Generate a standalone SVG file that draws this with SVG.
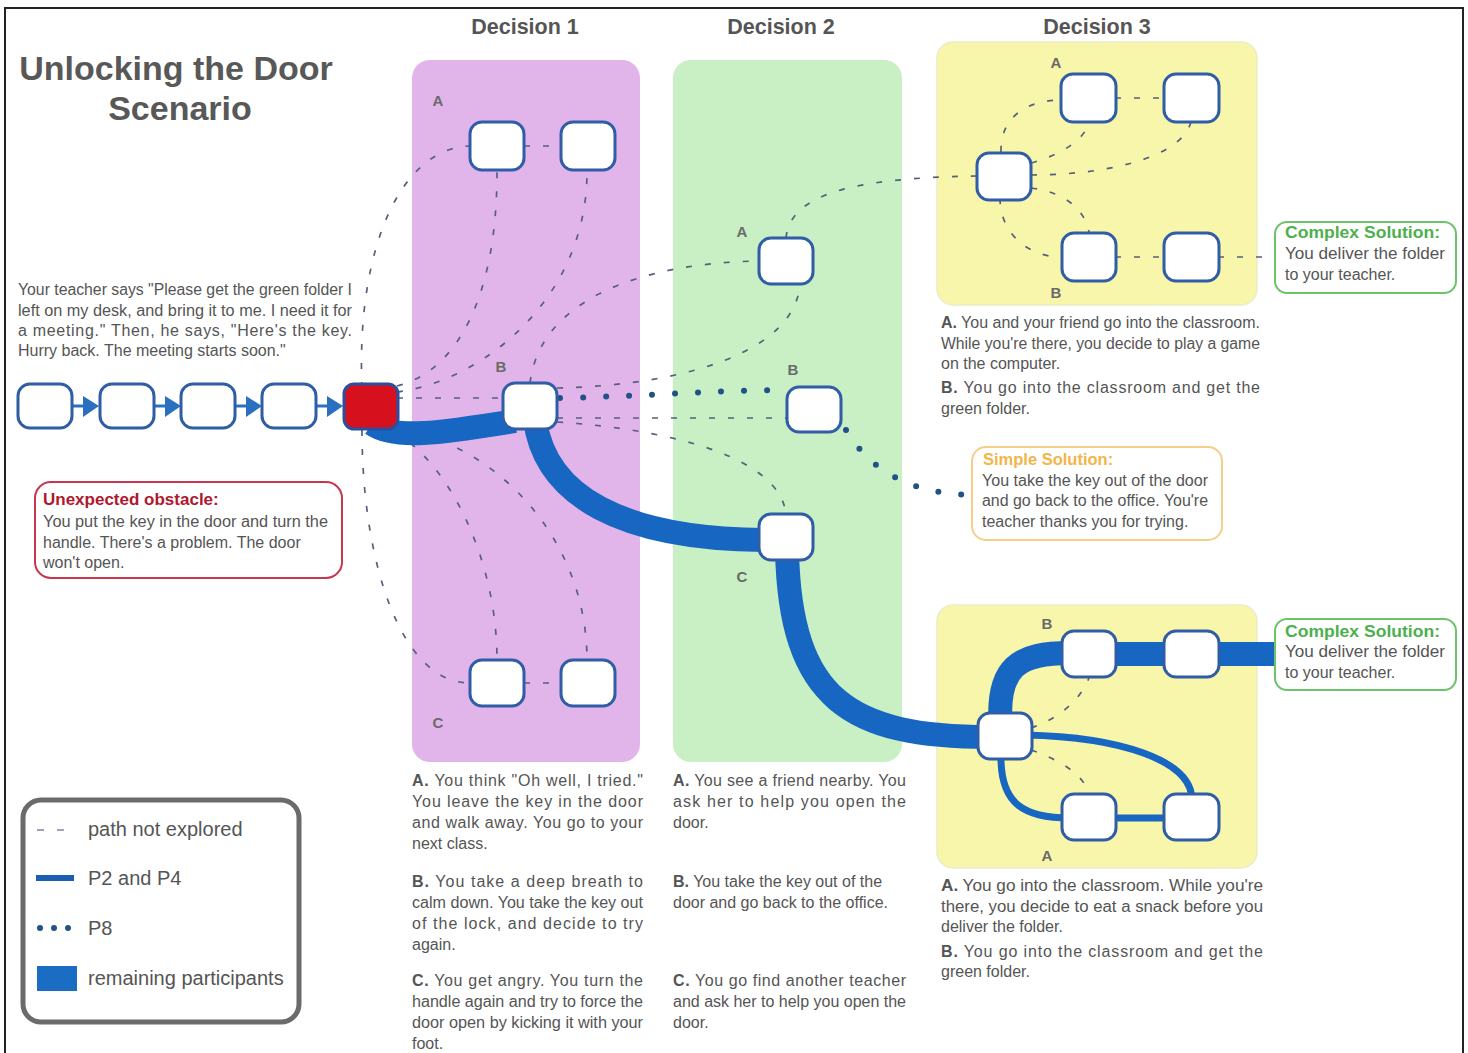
<svg xmlns="http://www.w3.org/2000/svg" width="1468" height="1053" viewBox="0 0 1468 1053">
<style>
text{font-family:"Liberation Sans",Arial,sans-serif;fill:#555}
.title{font-size:34px;font-weight:bold;fill:#585858}
.head{font-size:21.5px;font-weight:bold;fill:#555}
.body{font-size:16px;fill:#555}
.b{font-weight:bold}
.lbl{font-size:15px;font-weight:bold;fill:#6a6a6a;text-anchor:middle}
.node{fill:#fff;stroke:#2f5da6;stroke-width:3}
.halo{fill:none;stroke:#b9d6f3;stroke-width:8}
.dash{fill:none;stroke:#56607a;stroke-width:1.7;stroke-dasharray:6 13}
.band{fill:none;stroke:#1767c2;stroke-width:24}
.thin{fill:none;stroke:#1767c2;stroke-width:7}
.dots{fill:none;stroke:#1f5286;stroke-width:6;stroke-linecap:round;stroke-dasharray:0 23}
.arrow{fill:#2a6fc0}
.leg{font-size:20px;fill:#555}
</style>

<rect x="5" y="8" width="1458" height="1060" fill="#fff" stroke="#222" stroke-width="2"/>

<g id="title">
<text class="title" x="176" y="80" text-anchor="middle">Unlocking the Door</text>
<text class="title" x="180" y="120" text-anchor="middle">Scenario</text>
</g>

<g id="headers">
<text class="head" x="525" y="34" text-anchor="middle">Decision 1</text>
<text class="head" x="781" y="34" text-anchor="middle">Decision 2</text>
<text class="head" x="1097" y="34" text-anchor="middle">Decision 3</text>
</g>

<g id="panels">
<rect x="412" y="60" width="228" height="702" rx="18" fill="#e2b5ea"/>
<rect x="673" y="60" width="229" height="702" rx="18" fill="#c9efc5"/>
<rect x="937" y="42" width="320" height="263" rx="16" fill="#f8f6ab" stroke="#ecebc8" stroke-width="1.5"/>
<rect x="937" y="605" width="320" height="263" rx="16" fill="#f8f6ab" stroke="#ecebc8" stroke-width="1.5"/>
</g>

<g id="connectors">
<path class="dash" d="M362,388 C356,250 400,148 470,146"/>
<path class="dash" d="M362,430 C362,560 400,683 470,683"/>
<path class="dash" d="M397,386 C455,372 497,300 497,172"/>
<path class="dash" d="M397,392 C480,382 587,300 587,172"/>
<path class="dash" d="M397,398 L503,398"/>
<path class="dash" d="M395,432 C450,465 497,560 497,660"/>
<path class="dash" d="M440,440 C525,475 587,560 587,660"/>
<path class="dash" d="M524,146 L561,146"/>
<path class="dash" d="M524,683 L561,683"/>
<path class="dash" d="M530,383 C540,300 640,263 759,261"/>
<path class="dash" d="M557,388 C690,385 795,350 800,284"/>
<path class="dash" d="M557,418 L786,418"/>
<path class="dash" d="M557,422 C680,430 780,460 786,514"/>
<path class="dash" d="M786,238 C790,195 850,178 977,176"/>
<path class="dash" d="M1001,152 C1000,115 1030,100 1061,100"/>
<path class="dash" d="M1031,163 C1060,155 1085,140 1089,122"/>
<path class="dash" d="M1031,175 C1100,175 1180,160 1191,122"/>
<path class="dash" d="M1031,188 C1065,192 1085,210 1089,232"/>
<path class="dash" d="M1000,198 C1000,235 1030,257 1061,257"/>
<path class="dash" d="M1115,98 L1163,98"/>
<path class="dash" d="M1115,257 L1163,257"/>
<path class="dash" d="M1218,257 L1275,257"/>
<path class="dash" d="M1031,728 C1060,718 1080,700 1089,678"/>
<path class="dash" d="M1031,750 C1060,760 1085,775 1089,795"/>

<path class="band" d="M372,424 C395,440 440,433 515,421"/>
<path class="band" d="M535,420 C545,495 620,540 770,540"/>
<path class="band" d="M787,550 C790,700 850,737 990,737"/>
<path class="band" d="M1001,730 C995,665 1020,653 1070,653"/>
<path class="band" d="M1110,654 L1170,654"/>
<path class="band" d="M1210,654 L1276,654"/>
<path class="thin" d="M1025,735 C1120,737 1192,760 1192,800"/>
<path class="thin" d="M1001,755 C1000,805 1025,818 1070,818"/>
<path class="thin" d="M1110,818 L1170,818"/>

<path class="dots" d="M560,398 C650,396 720,390 786,390"/>
<path class="dots" d="M846,430 C870,470 910,494 972,495"/>

<line x1="72" y1="406" x2="85" y2="406" stroke="#2a6fc0" stroke-width="3"/>
<line x1="154" y1="406" x2="167" y2="406" stroke="#2a6fc0" stroke-width="3"/>
<line x1="235" y1="406" x2="248" y2="406" stroke="#2a6fc0" stroke-width="3"/>
<line x1="316" y1="406" x2="329" y2="406" stroke="#2a6fc0" stroke-width="3"/>
<polygon class="arrow" points="83,396 99,406 83,417"/>
<polygon class="arrow" points="165,396 181,406 165,417"/>
<polygon class="arrow" points="246,396 262,406 246,417"/>
<polygon class="arrow" points="327,396 343,406 327,417"/>
</g>

<g id="start-nodes">
<rect class="node" x="18" y="384" width="54" height="44" rx="12"/>
<rect class="node" x="100" y="384" width="54" height="44" rx="12"/>
<rect class="node" x="181" y="384" width="54" height="44" rx="12"/>
<rect class="node" x="262" y="384" width="54" height="44" rx="12"/>
<rect x="344" y="384" width="54" height="45" rx="10" fill="#d7101e" stroke="#2b4f9e" stroke-width="3"/>
</g>

<g id="d1-nodes">
<rect class="node" x="470" y="122" width="54" height="48" rx="12"/>
<rect class="node" x="561" y="122" width="54" height="48" rx="12"/>
<rect class="node" x="503" y="383" width="54" height="46" rx="12"/>
<rect class="node" x="470" y="660" width="54" height="46" rx="12"/>
<rect class="node" x="561" y="660" width="54" height="46" rx="12"/>
<text class="lbl" x="438" y="106">A</text>
<text class="lbl" x="501" y="372">B</text>
<text class="lbl" x="438" y="728">C</text>
</g>

<g id="d2-nodes">
<rect class="node" x="759" y="238" width="54" height="46" rx="12"/>
<rect class="node" x="787" y="387" width="54" height="45" rx="12"/>
<rect class="node" x="759" y="514" width="54" height="46" rx="12"/>
<text class="lbl" x="742" y="237">A</text>
<text class="lbl" x="793" y="375">B</text>
<text class="lbl" x="742" y="582">C</text>
</g>

<g id="d3-top-nodes">
<rect class="node" x="977" y="153" width="54" height="47" rx="12"/>
<rect class="node" x="1061" y="74" width="55" height="48" rx="12"/>
<rect class="node" x="1164" y="74" width="55" height="48" rx="12"/>
<rect class="node" x="1062" y="233" width="54" height="48" rx="12"/>
<rect class="node" x="1164" y="233" width="55" height="48" rx="12"/>
<text class="lbl" x="1056" y="68">A</text>
<text class="lbl" x="1056" y="298">B</text>
</g>

<g id="d3-bottom-nodes">
<rect class="node" x="978" y="713" width="54" height="46" rx="12"/>
<rect class="node" x="1062" y="631" width="54" height="46" rx="12"/>
<rect class="node" x="1164" y="631" width="55" height="46" rx="12"/>
<rect class="node" x="1062" y="794" width="54" height="46" rx="12"/>
<rect class="node" x="1164" y="794" width="55" height="46" rx="12"/>
<text class="lbl" x="1047" y="629">B</text>
<text class="lbl" x="1047" y="861">A</text>
</g>

<g id="intro">
<text class="body" x="18" y="295" textLength="334" lengthAdjust="spacingAndGlyphs">Your teacher says "Please get the green folder I</text>
<text class="body" x="18" y="316" textLength="334" lengthAdjust="spacingAndGlyphs">left on my desk, and bring it to me.  I need it for</text>
<text class="body" x="18" y="336" textLength="334" lengthAdjust="spacing">a meeting."  Then, he says, "Here's the key.</text>
<text class="body" x="18" y="356">Hurry back. The meeting starts soon."</text>
</g>

<g id="obstacle">
<rect x="35" y="482" width="307" height="96" rx="16" fill="#fff" stroke="#c8364f" stroke-width="2"/>
<text x="43" y="505" style="font-size:17px;font-weight:bold;fill:#b0182e">Unexpected obstacle:</text>
<text class="body" x="43" y="527" textLength="285" lengthAdjust="spacingAndGlyphs">You put the key in the door and turn the</text>
<text class="body" x="43" y="548">handle. There's a problem. The door</text>
<text class="body" x="43" y="568">won't open.</text>
</g>

<g id="simple-solution">
<rect x="972" y="447" width="250" height="93" rx="14" fill="#fff" stroke="#f5cf88" stroke-width="2"/>
<text x="983" y="465" style="font-size:16.5px;font-weight:bold;fill:#f3b54a">Simple Solution:</text>
<text class="body" x="982" y="486" textLength="226" lengthAdjust="spacingAndGlyphs">You take the key out of the door</text>
<text class="body" x="982" y="506" textLength="226" lengthAdjust="spacingAndGlyphs">and go back to the office.  You're</text>
<text class="body" x="982" y="527">teacher thanks you for trying.</text>
</g>

<g id="complex-solution-1">
<rect x="1275" y="222" width="181" height="71" rx="12" fill="#fff" stroke="#6cc46a" stroke-width="2"/>
<text x="1285" y="238" textLength="155" lengthAdjust="spacingAndGlyphs" style="font-size:16.5px;font-weight:bold;fill:#4db04d">Complex Solution:</text>
<text class="body" x="1285" y="259" textLength="160" lengthAdjust="spacingAndGlyphs">You deliver the folder</text>
<text class="body" x="1285" y="280">to your teacher.</text>
</g>

<g id="complex-solution-2">
<rect x="1275" y="619" width="181" height="71" rx="12" fill="#fff" stroke="#6cc46a" stroke-width="2"/>
<text x="1285" y="637" textLength="155" lengthAdjust="spacingAndGlyphs" style="font-size:16.5px;font-weight:bold;fill:#4db04d">Complex Solution:</text>
<text class="body" x="1285" y="657" textLength="160" lengthAdjust="spacingAndGlyphs">You deliver the folder</text>
<text class="body" x="1285" y="678">to your teacher.</text>
</g>

<g id="d1-text">
<text class="body" x="412" y="786" textLength="231" lengthAdjust="spacing"><tspan class="b">A.</tspan> You think "Oh well, I tried."</text>
<text class="body" x="412" y="807" textLength="231" lengthAdjust="spacing">You leave the key in the door</text>
<text class="body" x="412" y="828" textLength="231" lengthAdjust="spacing">and walk away.  You go to your</text>
<text class="body" x="412" y="849">next class.</text>
<text class="body" x="412" y="887" textLength="231" lengthAdjust="spacing"><tspan class="b">B.</tspan> You take a deep breath to</text>
<text class="body" x="412" y="908" textLength="231" lengthAdjust="spacingAndGlyphs">calm down. You take the key out</text>
<text class="body" x="412" y="929" textLength="231" lengthAdjust="spacing">of the lock, and decide to try</text>
<text class="body" x="412" y="950">again.</text>
<text class="body" x="412" y="986" textLength="231" lengthAdjust="spacing"><tspan class="b">C.</tspan> You get angry.  You turn the</text>
<text class="body" x="412" y="1007" textLength="231" lengthAdjust="spacingAndGlyphs">handle again and try to force the</text>
<text class="body" x="412" y="1028" textLength="231" lengthAdjust="spacingAndGlyphs">door open by kicking it with your</text>
<text class="body" x="412" y="1049">foot.</text>
</g>

<g id="d2-text">
<text class="body" x="673" y="786" textLength="233" lengthAdjust="spacing"><tspan class="b">A.</tspan> You see a friend nearby.  You</text>
<text class="body" x="673" y="807" textLength="233" lengthAdjust="spacing">ask her to help you open the</text>
<text class="body" x="673" y="828">door.</text>
<text class="body" x="673" y="887"><tspan class="b">B.</tspan> You take the key out of the</text>
<text class="body" x="673" y="908">door and go back to the office.</text>
<text class="body" x="673" y="986" textLength="233" lengthAdjust="spacing"><tspan class="b">C.</tspan> You go find another teacher</text>
<text class="body" x="673" y="1007" textLength="233" lengthAdjust="spacingAndGlyphs">and ask her to help you open the</text>
<text class="body" x="673" y="1028">door.</text>
</g>

<g id="d3-top-text">
<text class="body" x="941" y="328" textLength="319" lengthAdjust="spacingAndGlyphs"><tspan class="b">A.</tspan> You and your friend go into the classroom.</text>
<text class="body" x="941" y="349" textLength="319" lengthAdjust="spacingAndGlyphs">While you're there, you decide to play a game</text>
<text class="body" x="941" y="369">on the computer.</text>
<text class="body" x="941" y="393" textLength="319" lengthAdjust="spacing"><tspan class="b">B.</tspan> You go into the classroom and get the</text>
<text class="body" x="941" y="414">green folder.</text>
</g>

<g id="d3-bottom-text">
<text class="body" x="941" y="891" textLength="322" lengthAdjust="spacingAndGlyphs"><tspan class="b">A.</tspan> You go into the classroom. While you're</text>
<text class="body" x="941" y="912" textLength="322" lengthAdjust="spacingAndGlyphs">there, you decide to eat a snack before you</text>
<text class="body" x="941" y="932">deliver the folder.</text>
<text class="body" x="941" y="957" textLength="322" lengthAdjust="spacing"><tspan class="b">B.</tspan> You go into the classroom and get the</text>
<text class="body" x="941" y="977">green folder.</text>
</g>

<g id="legend">
<rect x="23" y="800" width="276" height="222" rx="18" fill="#fff" stroke="#6b6b6b" stroke-width="5"/>
<line x1="37" y1="830" x2="72" y2="830" stroke="#9aa3b8" stroke-width="2" stroke-dasharray="7 13"/>
<text class="leg" x="88" y="836">path not explored</text>
<line x1="36" y1="878" x2="74" y2="878" stroke="#1a5fb4" stroke-width="6"/>
<text class="leg" x="88" y="885">P2 and P4</text>
<line x1="40" y1="928" x2="78" y2="928" stroke="#1f5286" stroke-width="6" stroke-linecap="round" stroke-dasharray="0 14"/>
<text class="leg" x="88" y="935">P8</text>
<rect x="37" y="966" width="40" height="25" fill="#1b6dc4"/>
<text class="leg" x="88" y="985">remaining participants</text>
</g>
</svg>
